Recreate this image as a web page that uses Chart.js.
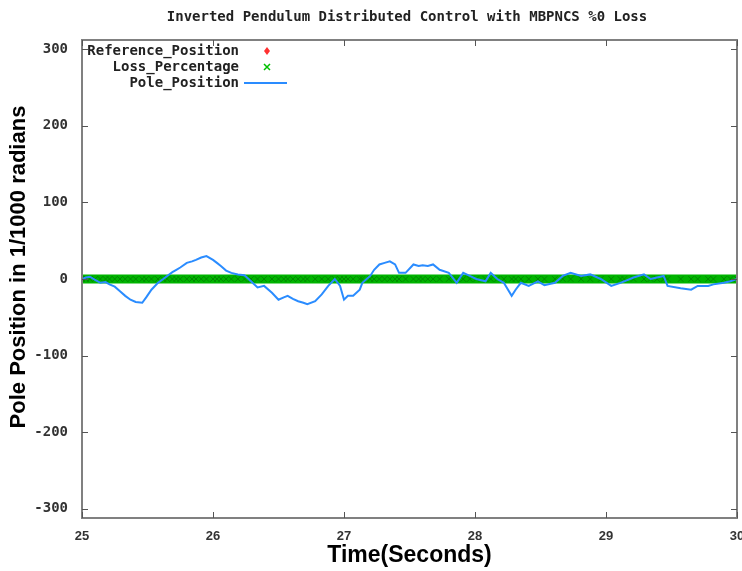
<!DOCTYPE html>
<html lang="en">
<head>
  <meta charset="UTF-8">
  <title>Inverted Pendulum Distributed Control</title>
  <script src="https://cdn.jsdelivr.net/npm/chart.js"></script>
  <style>
    * { margin: 0; padding: 0; box-sizing: border-box; }
    body { background: #fff; width: 742px; height: 571px; overflow: hidden; }
    canvas { display: block; }
  </style>
</head>
<body>
  <canvas id="chart" width="742" height="571"></canvas>
  <script>
    const chartTitle = 'Inverted Pendulum Distributed Control with MBPNCS %0 Loss';
    const yTitle = 'Pole Position in 1/1000 radians';
    const xTicks = [25, 26, 27, 28, 29, 30];
    const yTicks = [-300, -200, -100, 0, 100, 200, 300];
    const seriesNames = ['Reference_Position', 'Loss_Percentage', 'Pole_Position'];
    const referenceLevel = 0;
    const lossLevel = 0;

    const poleTime = [
      25.00, 25.03, 25.06, 25.10, 25.14, 25.18, 25.21, 25.25, 25.29, 25.33,
      25.37, 25.41, 25.46, 25.49, 25.53, 25.58, 25.62, 25.65, 25.69, 25.72,
      25.75, 25.80, 25.84, 25.87, 25.91, 25.95, 26.00, 26.03, 26.06, 26.10,
      26.14, 26.19, 26.24, 26.29, 26.34, 26.39, 26.45, 26.50, 26.54, 26.57,
      26.61, 26.65, 26.69, 26.72, 26.78, 26.83, 26.88, 26.93, 26.97, 27.00,
      27.03, 27.07, 27.12, 27.14, 27.20, 27.23, 27.27, 27.31, 27.35, 27.39,
      27.42, 27.47, 27.53, 27.57, 27.60, 27.64, 27.68, 27.73, 27.80, 27.86,
      27.91, 27.96, 28.01, 28.08, 28.12, 28.17, 28.22, 28.28, 28.31, 28.35,
      28.41, 28.48, 28.53, 28.61, 28.67, 28.73, 28.81, 28.88, 28.96, 29.04,
      29.11, 29.14, 29.21, 29.29, 29.34, 29.39, 29.44, 29.47, 29.57, 29.65,
      29.70, 29.78, 29.82, 29.90, 29.95, 30.00
    ];
    const poleValue = [
      0, 2, 3, -1, -5, -4, -7, -10, -16, -22,
      -27, -30, -31, -24, -14, -5, 0, 4, 9, 12,
      15, 21, 23, 25, 28, 30, 25, 21, 17, 11,
      8, 6, 5, -3, -11, -9, -18, -27, -24, -22,
      -26, -29, -31, -33, -29, -20, -9, 0, -9, -27,
      -22, -22, -14, -5, 4, 12, 19, 21, 23, 19,
      8, 8, 19, 17, 18, 17, 19, 12, 8, -5,
      8, 4, 0, -3, 8, 0, -5, -22, -14, -5,
      -9, -3, -8, -5, 4, 8, 4, 6, 0, -9,
      -5, -3, 2, 6, 0, 2, 4, -9, -12, -14,
      -9, -9, -7, -5, -3, 0
    ];

    const monoFont = '"DejaVu Sans Mono", monospace';
    const sansFont = '"Liberation Sans", Arial, sans-serif';
    const frameColor = '#808080';

    // gnuplot-like frame, inward ticks, titles and key
    const gnuplotLook = {
      id: 'gnuplotLook',
      afterDatasetsDraw(chart) {
        const { ctx, chartArea: a, scales } = chart;
        ctx.save();
        ctx.strokeStyle = frameColor;
        ctx.lineWidth = 2;
        ctx.strokeRect(a.left, a.top, a.right - a.left, a.bottom - a.top);
        ctx.lineWidth = 1;
        ctx.strokeStyle = '#555';
        ctx.beginPath();
        xTicks.forEach(v => {
          const px = Math.round(scales.x.getPixelForValue(v)) + 0.5;
          ctx.moveTo(px, a.bottom); ctx.lineTo(px, a.bottom - 6);
          ctx.moveTo(px, a.top); ctx.lineTo(px, a.top + 6);
        });
        yTicks.forEach(v => {
          const py = Math.round(scales.y.getPixelForValue(v)) + 0.5;
          ctx.moveTo(a.left, py); ctx.lineTo(a.left + 6, py);
          ctx.moveTo(a.right, py); ctx.lineTo(a.right - 6, py);
        });
        ctx.stroke();

        // title
        ctx.fillStyle = '#222';
        ctx.font = 'bold 14px ' + monoFont;
        ctx.textAlign = 'center';
        ctx.textBaseline = 'middle';
        ctx.fillText(chartTitle, 407, 17);

        // y axis title
        ctx.save();
        ctx.translate(19, 267);
        ctx.rotate(-Math.PI / 2);
        ctx.fillStyle = '#000';
        ctx.font = 'bold 22px ' + sansFont;
        ctx.fillText(yTitle, 0, 0);
        ctx.restore();

        // key
        const keyRight = 239;
        const keyRows = [51, 67, 83];
        ctx.textAlign = 'right';
        seriesNames.forEach((name, i) => ctx.fillText(name, keyRight, keyRows[i]));
        const mx = 267;
        ctx.fillStyle = '#ff3030';
        ctx.beginPath();
        ctx.moveTo(mx, keyRows[0] - 4); ctx.lineTo(mx + 3, keyRows[0]);
        ctx.lineTo(mx, keyRows[0] + 4); ctx.lineTo(mx - 3, keyRows[0]);
        ctx.closePath(); ctx.fill();
        ctx.strokeStyle = '#00c000';
        ctx.lineWidth = 1.5;
        ctx.beginPath();
        ctx.moveTo(mx - 3, keyRows[1] - 3); ctx.lineTo(mx + 3, keyRows[1] + 3);
        ctx.moveTo(mx + 3, keyRows[1] - 3); ctx.lineTo(mx - 3, keyRows[1] + 3);
        ctx.stroke();
        ctx.strokeStyle = '#2a8cff';
        ctx.lineWidth = 2;
        ctx.beginPath();
        ctx.moveTo(244, keyRows[2]); ctx.lineTo(287, keyRows[2]);
        ctx.stroke();
        ctx.restore();
      }
    };

    const poleData = poleTime.map((t, i) => ({ x: t, y: poleValue[i] }));

    new Chart(document.getElementById('chart'), {
      type: 'scatter',
      data: {
        datasets: [
          {
            label: seriesNames[0],
            data: poleTime.map(t => ({ x: t, y: referenceLevel })),
            pointStyle: 'rectRot',
            pointRadius: 3,
            backgroundColor: '#ff3030',
            borderColor: '#ff3030',
            showLine: false,
            order: 3
          },
          {
            label: seriesNames[1],
            data: poleTime.map(t => ({ x: t, y: lossLevel })),
            showLine: true,
            borderColor: '#00b400',
            borderWidth: 9,
            pointStyle: 'crossRot',
            pointRadius: 4,
            pointBorderColor: '#008a00',
            pointBorderWidth: 1,
            order: 2
          },
          {
            label: seriesNames[2],
            data: poleData,
            showLine: true,
            borderColor: '#2a8cff',
            borderWidth: 2,
            pointRadius: 0,
            tension: 0,
            order: 1
          }
        ]
      },
      options: {
        responsive: false,
        animation: false,
        devicePixelRatio: 1,
        layout: { padding: { top: 40, right: 4, bottom: 2, left: 0 } },
        plugins: {
          legend: { display: false },
          title: { display: false },
          tooltip: { enabled: false }
        },
        scales: {
          x: {
            type: 'linear',
            min: 25,
            max: 30,
            grid: { display: false, drawTicks: false },
            border: { display: false },
            afterBuildTicks: s => { s.ticks = xTicks.map(v => ({ value: v })); },
            afterFit: s => { s.height = 51; s.paddingLeft = 0; s.paddingRight = 0; },
            ticks: {
              padding: 11,
              maxRotation: 0,
              color: '#333',
              font: { family: sansFont, size: 13, weight: 'bold' }
            },
            title: {
              display: true,
              text: 'Time(Seconds)',
              color: '#000',
              padding: { top: 0, bottom: 0 },
              font: { family: sansFont, size: 23, weight: 'bold' }
            }
          },
          y: {
            min: -312,
            max: 312,
            grid: { display: false, drawTicks: false },
            border: { display: false },
            afterBuildTicks: s => { s.ticks = yTicks.map(v => ({ value: v })); },
            afterFit: s => { s.width = 82; s.paddingTop = 0; s.paddingBottom = 0; },
            ticks: {
              padding: 14,
              color: '#333',
              font: { family: monoFont, size: 14, weight: 'bold' }
            }
          }
        }
      },
      plugins: [gnuplotLook]
    });
  </script>
</body>
</html>
